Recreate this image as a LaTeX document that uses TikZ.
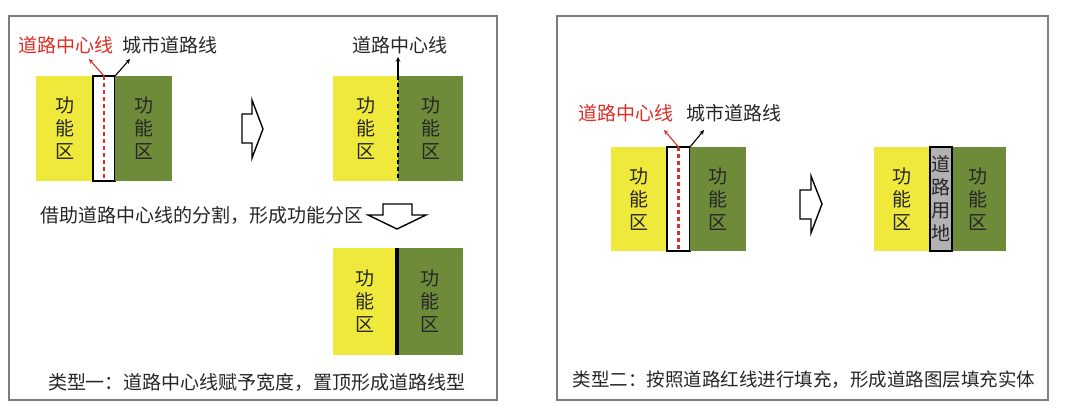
\documentclass[tikz,border=0pt]{standalone}
\usepackage{fontspec}
\usepackage{xcolor}
\newfontfamily\cjk{Noto Sans CJK SC}
\definecolor{zoneyellow}{RGB}{238,233,58}
\definecolor{zonegreen}{RGB}{110,139,58}
\definecolor{roadgray}{RGB}{178,178,178}
\definecolor{framegray}{RGB}{125,125,125}
\definecolor{labelred}{RGB}{222,45,38}
\tikzset{
    panel-frame/.style = {draw=framegray, line width=1.1pt},
    zone/.style = {rectangle, inner sep=0pt, outer sep=0pt, anchor=north west, align=center,
                   font=\cjk\fontsize{19}{23}\selectfont, text=black!85},
    road-strip/.style = {zone, draw=black, line width=1.5pt},
    zone-label/.style = {font=\cjk\fontsize{19}{22}\selectfont, inner sep=0pt, text=black!85},
    hollow-arrow/.style = {draw=black, fill=white, line width=1.4pt, line join=miter},
    pointer/.style = {->, >=stealth, line width=1.1pt},
    center-dash/.style = {line width=2.2pt, dash pattern=on 4pt off 3pt},
}

\begin{document}
\begin{tikzpicture}[x=1pt, y=-1pt]
\useasboundingbox (0,0) rectangle (1080,416);
% frames
\draw[panel-frame] (9,16) rectangle (497,400);
\draw[panel-frame] (557,16) rectangle (1048,400);

% type one, before
\node[zone, fill=zoneyellow, minimum width=57pt, minimum height=105pt] (a-yellow) at (36,76) {功\\能\\区};
\node[road-strip, fill=white, minimum width=22pt, minimum height=105pt] (a-road) at (93,76) {};
\node[zone, fill=zonegreen, minimum width=57pt, minimum height=105pt] (a-green) at (115,76) {功\\能\\区};
\draw[center-dash, labelred] (a-road.north) -- (a-road.south);
\node[zone-label, text=labelred] (a-center) at (66,45) {道路中心线};
\node[zone-label] (a-city) at (170,45) {城市道路线};
\coordinate (a-center-tip) at (89,59);
\coordinate (a-city-tip) at (130,59);
\draw[pointer, labelred] (a-road.north) -- (a-center-tip);
\draw[pointer] (a-road.north east) -- (a-city-tip);

\draw[hollow-arrow] (242,114) -- (252,114) -- (252,100) -- (263,129) -- (252,158) -- (252,143) -- (242,143) -- cycle;

% type one, after
\node[zone, fill=zoneyellow, minimum width=65pt, minimum height=105pt] (b-yellow) at (333,76) {功\\能\\区};
\node[zone, fill=zonegreen, minimum width=65pt, minimum height=105pt] (b-green) at (398,76) {功\\能\\区};
\draw[center-dash] (b-green.north west) -- (b-green.south west);
\node[zone-label] (b-center) at (400,45) {道路中心线};
\coordinate (b-center-tip) at (398,57);
\draw[pointer] (b-green.north west) -- (b-center-tip);

\node[zone-label, anchor=west] (split-text) at (40,215) {借助道路中心线的分割，形成功能分区};
\draw[hollow-arrow] (383,204) -- (412,204) -- (412,215) -- (426,215) -- (397,229) -- (368,215) -- (383,215) -- cycle;

\node[zone, fill=zoneyellow, minimum width=64pt, minimum height=107pt] (c-yellow) at (333,248) {功\\能\\区};
\node[zone, fill=zonegreen, minimum width=66pt, minimum height=107pt] (c-green) at (397,248) {功\\能\\区};
\draw[line width=3.5pt] (c-green.north west) -- (c-green.south west);

\node[zone-label] (caption-one) at (257,382) {类型一：道路中心线赋予宽度，置顶形成道路线型};

% type two, before
\node[zone, fill=zoneyellow, minimum width=56pt, minimum height=104pt] (d-yellow) at (611,147) {功\\能\\区};
\node[road-strip, fill=white, minimum width=23pt, minimum height=104pt] (d-road) at (667,147) {};
\node[zone, fill=zonegreen, minimum width=56pt, minimum height=104pt] (d-green) at (690,147) {功\\能\\区};
\draw[center-dash, labelred] (d-road.north) -- (d-road.south);
\node[zone-label, text=labelred] (d-center) at (626,113) {道路中心线};
\node[zone-label] (d-city) at (734,113) {城市道路线};
\coordinate (d-center-tip) at (664,130);
\coordinate (d-city-tip) at (704,130);
\draw[pointer, labelred] (d-road.north) -- (d-center-tip);
\draw[pointer] (d-road.north east) -- (d-city-tip);

\draw[hollow-arrow] (800,190) -- (811,190) -- (811,176) -- (822,204) -- (811,233) -- (811,219) -- (800,219) -- cycle;

% type two, after
\node[zone, fill=zoneyellow, minimum width=56pt, minimum height=104pt] (e-yellow) at (874,147) {功\\能\\区};
\node[zone, fill=zonegreen, minimum width=56pt, minimum height=104pt] (e-green) at (950,147) {功\\能\\区};
\node[road-strip, fill=roadgray, minimum width=22pt, minimum height=104pt] (e-road) at (930,147) {道\\路\\用\\地};

\node[zone-label, font=\cjk\fontsize{18.5}{22}\selectfont] (caption-two) at (804,380) {类型二：按照道路红线进行填充，形成道路图层填充实体};
\end{tikzpicture}
\end{document}
